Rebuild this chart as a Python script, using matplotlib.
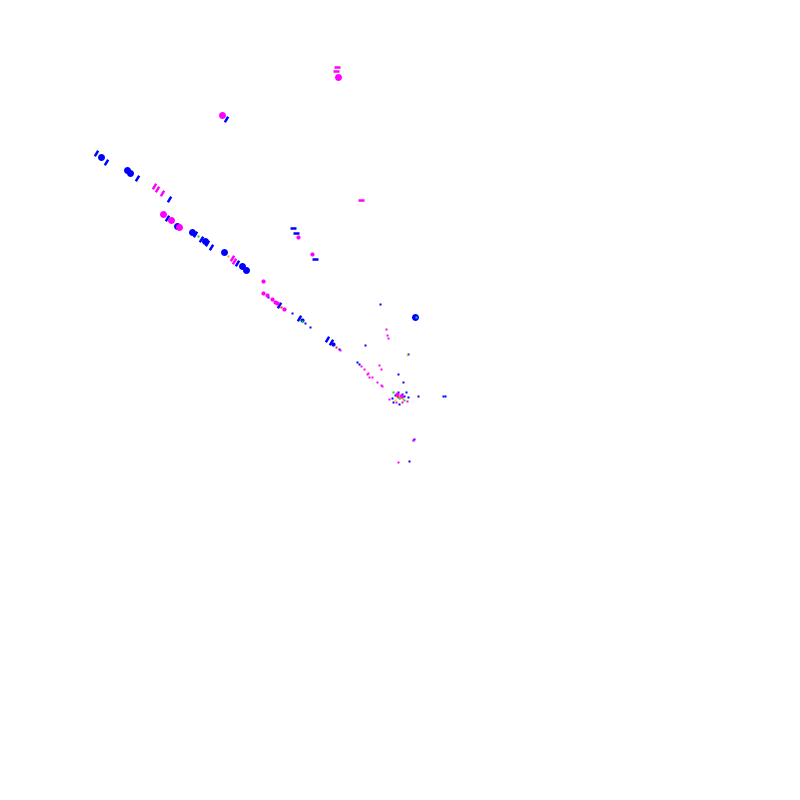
import matplotlib
matplotlib.use('Agg')
import matplotlib.pyplot as plt

# point kind: b = blob, m = small blob, d = dash, h = flat dash, p = dot
blue_x = [95.7, 100.7, 106, 126.7, 130, 136.7, 169.3, 167.3, 177.3, 192.3, 195, 200.7, 205, 207.3, 211,
          224.3, 237, 241.7, 245.7, 268.3, 279.3, 292, 299.3, 302.3, 305, 310.3, 327, 331, 332.7, 339.3,
          356.7, 358.7, 380, 415, 408.3, 398.3, 403.3, 418.3, 443.3, 445.3, 414.3, 409, 225.7, 293, 296.3,
          315.3, 398.3, 395, 402.3, 405.7, 404.3, 407.7, 391.7, 393.3, 399.3, 402, 365.3]
blue_y = [152.7, 156.7, 161.7, 170, 173, 178, 199.3, 217.7, 225.7, 231.7, 234.3, 238.7, 240.7, 243.3, 246.7,
          252.3, 262.7, 266, 270, 296.7, 305.3, 313, 318.3, 320, 322.7, 326.7, 339, 342, 343.7, 349,
          361.7, 364, 304, 316.7, 354.3, 374.3, 382.3, 396.3, 396.3, 396.3, 439.3, 461, 119.3, 227.7, 232.7,
          258.7, 392.3, 395, 394.3, 392.3, 395.7, 397.3, 398.3, 402.3, 404.3, 397.3, 345]
blue_kind = ['d', 'b', 'd', 'b', 'b', 'd', 'd', 'd', 'b', 'b', 'd', 'd', 'b', 'd', 'd',
             'b', 'd', 'b', 'b', 'p', 'd', 'p', 'd', 'm', 'p', 'p', 'd', 'd', 'm', 'p',
             'p', 'p', 'p', 'b', 'p', 'p', 'p', 'p', 'p', 'p', 'p', 'p', 'd', 'h', 'h',
             'h', 'p', 'p', 'p', 'p', 'p', 'p', 'p', 'p', 'p', 'p', 'p']

magenta_x = [154, 157.3, 162, 163.3, 170.7, 179, 232, 234.3, 263.3, 263.3, 266.7, 271.7, 275, 276.7, 283.7,
             340.3, 361, 364.3, 368.3, 367.3, 369.3, 372, 377.3, 380.7, 382.3, 379.3, 381.3, 386, 387.3,
             387.7, 413.3, 398.3, 336.7, 336, 337.7, 222.3, 361.3, 298.3, 312.3, 389.3, 396, 406.7,
             396.7, 400.7, 401.7, 412.7]
magenta_y = [186, 189, 192.7, 214.3, 220, 227.3, 258.3, 260.7, 281, 293.3, 295.3, 299.3, 302, 303.3, 309.3,
             350, 366, 369.3, 372.7, 374.3, 376.7, 376.7, 382.3, 385, 386.3, 365.3, 369.3, 328.7, 335,
             338.3, 440, 462.3, 66.7, 70.7, 77.3, 115.3, 200.3, 236.7, 253.7, 399.3, 402.3, 400.7,
             394, 395.7, 401.7, 440]
magenta_kind = ['d', 'd', 'd', 'b', 'b', 'b', 'd', 'd', 'm', 'm', 'm', 'm', 'm', 'm', 'm',
                'p', 'p', 'p', 'p', 'p', 'p', 'p', 'p', 'p', 'p', 'p', 'p', 'p', 'p',
                'p', 'p', 'p', 'h', 'h', 'b', 'b', 'h', 'm', 'm', 'p', 'p', 'p',
                'm', 'm', 'p', 'p']

green_x = [198.3, 301.7, 393.3, 404]
green_y = [235.7, 321, 392.3, 400]

red_x = [281, 336.3, 396.7, 398.3]
red_y = [306.7, 347, 396, 397.3]

orange_x = [228, 402.7, 400]
orange_y = [255.7, 399.3, 398.3]

yellow_x = [407, 395]
yellow_y = [355.3, 400]

cyan_x = [415.5, 399]
cyan_y = [317, 398]

fig = plt.figure(figsize=(8, 8), dpi=100)
ax = fig.add_axes([0, 0, 1, 1])
ax.set_xlim(0, 800)
ax.set_ylim(800, 0)
ax.axis('off')

dash = [(-0.6, -1), (0.6, 1)]
hbar = [(-1, 0), (1, 0)]


def draw(xs, ys, kinds, color):
    for x, y, k in zip(xs, ys, kinds):
        if k == 'b':
            ax.plot(x, y, marker='o', ms=5, color=color, mec='none', ls='none')
        elif k == 'm':
            ax.plot(x, y, marker='o', ms=3, color=color, mec='none', ls='none')
        elif k == 'd':
            ax.plot(x, y, marker=dash, ms=4, mec=color, mew=1.8, ls='none')
        elif k == 'h':
            ax.plot(x, y, marker=hbar, ms=4, mec=color, mew=1.8, ls='none')
        else:
            ax.plot(x, y, marker='s', ms=1.6, color=color, mec='none', ls='none')


draw(blue_x, blue_y, blue_kind, '#0000ff')
draw(magenta_x, magenta_y, magenta_kind, '#ff00ff')
ax.plot(green_x, green_y, 's', ms=2, color='#00dd00', mec='none')
ax.plot(red_x, red_y, 's', ms=2, color='#ff2000', mec='none')
ax.plot(orange_x, orange_y, 's', ms=2, color='#ffa500', mec='none')
ax.plot(yellow_x, yellow_y, 's', ms=2, color='#ffd700', mec='none')
ax.plot(cyan_x, cyan_y, 's', ms=2, color='#00cccc', mec='none')

fig.savefig('out.png', dpi=100)
